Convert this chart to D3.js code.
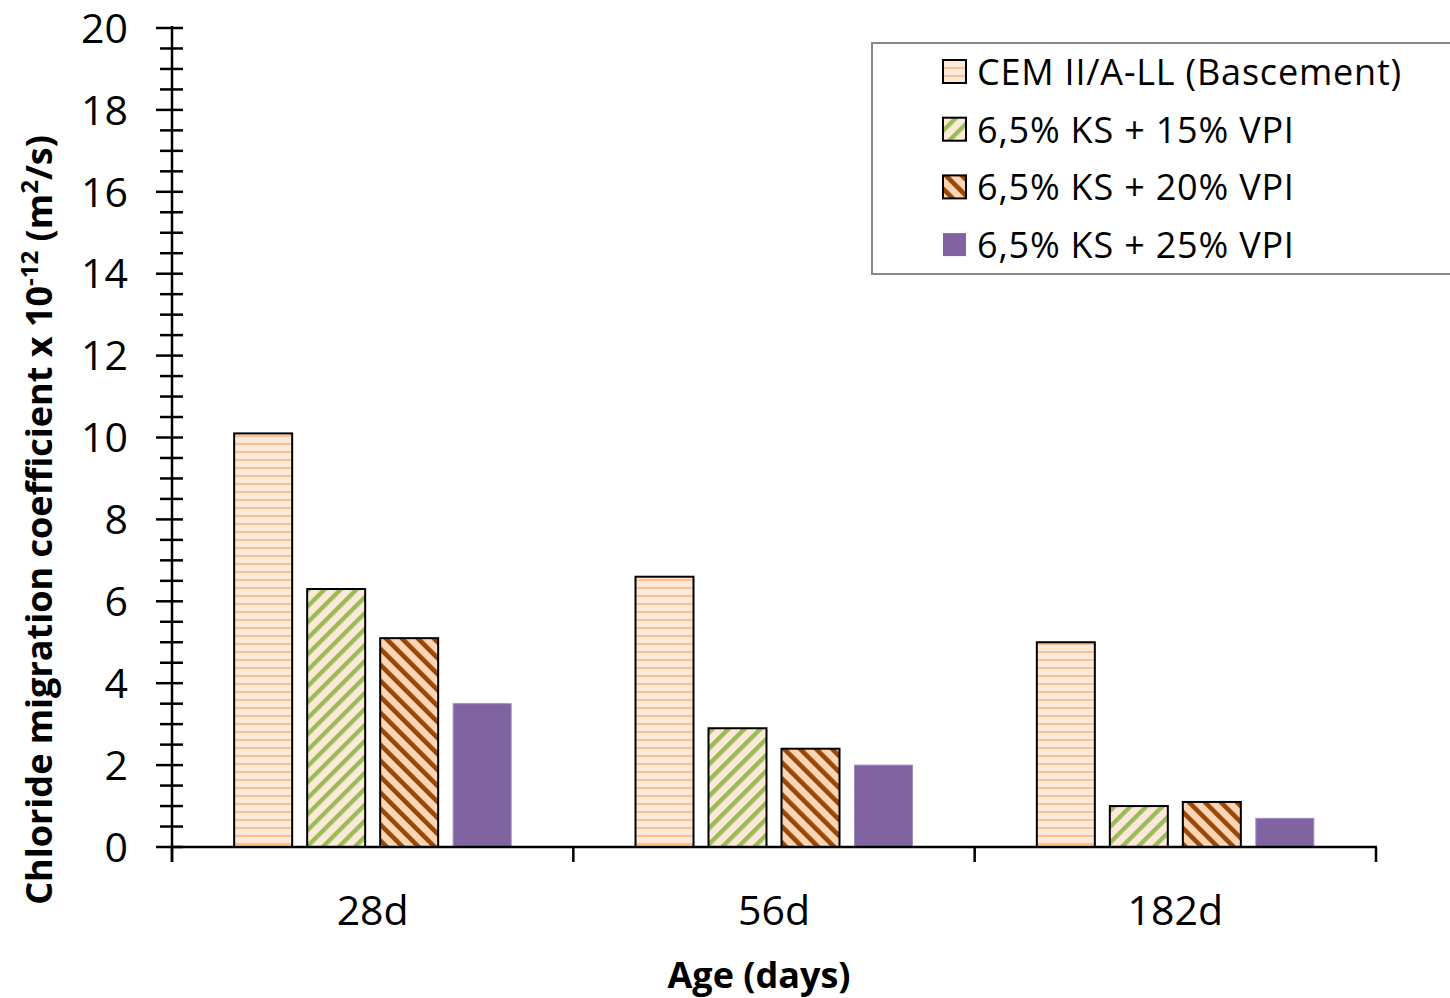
<!DOCTYPE html>
<html><head><meta charset="utf-8">
<script src="https://cdn.jsdelivr.net/npm/d3@7"></script>
<style>html,body{margin:0;padding:0;background:#fff;}svg{display:block;}</style>
</head><body>
<svg id="chart" width="1450" height="998"></svg>
<script>
const categories = ["28d", "56d", "182d"];
const seriesNames = ["CEM II/A-LL (Bascement)", "6,5% KS + 15% VPI", "6,5% KS + 20% VPI", "6,5% KS + 25% VPI"];
const cemValues = [10.1, 6.6, 5.0];
const vpi15Values = [6.3, 2.9, 1.0];
const vpi20Values = [5.1, 2.4, 1.1];
const vpi25Values = [3.5, 2.0, 0.7];
const yTicks = [0, 2, 4, 6, 8, 10, 12, 14, 16, 18, 20];
const seriesValues = [cemValues, vpi15Values, vpi20Values, vpi25Values];

(function () {
const svg = d3.select("#chart");
const FONT = "'Open Sans', sans-serif";
const pLeft = 172, pRight = 1376, pTop = 28, pBottom = 847;

const defs = svg.append("defs");
const p0 = defs.append("pattern").attr("id", "pat0").attr("patternUnits", "userSpaceOnUse")
  .attr("width", 8).attr("height", 8);
p0.append("rect").attr("width", 8).attr("height", 8).attr("fill", "#FDE9D9");
p0.append("rect").attr("y", 3).attr("width", 8).attr("height", 2).attr("fill", "#FAC090");
const p1 = defs.append("pattern").attr("id", "pat1").attr("patternUnits", "userSpaceOnUse")
  .attr("width", 11.3).attr("height", 11.3).attr("patternTransform", "rotate(45)");
p1.append("rect").attr("width", 11.3).attr("height", 11.3).attr("fill", "#FDE9D9");
p1.append("rect").attr("width", 4.4).attr("height", 11.3).attr("fill", "#9BBB59");
const p2 = defs.append("pattern").attr("id", "pat2").attr("patternUnits", "userSpaceOnUse")
  .attr("width", 11.3).attr("height", 11.3).attr("patternTransform", "rotate(-45)");
p2.append("rect").attr("width", 11.3).attr("height", 11.3).attr("fill", "#FCD5B5");
p2.append("rect").attr("width", 4.6).attr("height", 11.3).attr("fill", "#984807");

const fills = ["url(#pat0)", "url(#pat1)", "url(#pat2)", "#8064A2"];
const strokes = ["#000", "#000", "#000", "#A08AC0"];
const strokeW = [2, 2, 2, 1];

const y = d3.scaleLinear().domain([0, 20]).range([pBottom, pTop]);
const x0 = d3.scaleBand().domain(categories).range([pLeft, pRight]).paddingInner(0).paddingOuter(0);
const x1 = d3.scaleBand().domain(d3.range(4)).range([0, 277]).paddingInner(15/73).paddingOuter(0);

categories.forEach((c, ci) => {
  const gx = x0(c) + x0.bandwidth() / 2 - 138.5;
  seriesValues.forEach((vals, si) => {
    svg.append("rect")
      .attr("x", gx + x1(si))
      .attr("y", y(vals[ci]))
      .attr("width", x1.bandwidth())
      .attr("height", pBottom - y(vals[ci]))
      .attr("fill", fills[si])
      .attr("stroke", strokes[si])
      .attr("stroke-width", strokeW[si]);
  });
});

const minorTicks = d3.range(0, 20.01, 0.5).filter(v => Math.abs(v % 2) > 1e-6);
const ya = svg.append("g");
minorTicks.forEach(v => {
  ya.append("line").attr("x1", pLeft - 12).attr("x2", pLeft + 11).attr("y1", y(v)).attr("y2", y(v))
    .attr("stroke", "#000").attr("stroke-width", 2.5);
});
yTicks.forEach(v => {
  ya.append("line").attr("x1", pLeft - 16).attr("x2", pLeft + 11).attr("y1", y(v)).attr("y2", y(v))
    .attr("stroke", "#000").attr("stroke-width", 2.5);
  ya.append("text").attr("x", 128).attr("y", y(v)).attr("dy", "0.36em")
    .attr("text-anchor", "end").attr("font-family", FONT).attr("font-size", 41).attr("fill", "#000")
    .text(v);
});
ya.append("line").attr("x1", pLeft).attr("x2", pLeft).attr("y1", pTop - 2).attr("y2", pBottom + 15)
  .attr("stroke", "#000").attr("stroke-width", 2.5);

svg.append("line").attr("x1", pLeft).attr("x2", pRight + 1).attr("y1", pBottom).attr("y2", pBottom)
  .attr("stroke", "#000").attr("stroke-width", 2.5);
const bounds = categories.map(c => x0(c)).concat([x0(categories[categories.length - 1]) + x0.bandwidth()]);
bounds.forEach(b => {
  svg.append("line").attr("x1", b).attr("x2", b).attr("y1", pBottom).attr("y2", pBottom + 15)
    .attr("stroke", "#000").attr("stroke-width", 2.5);
});
categories.forEach(c => {
  svg.append("text").attr("x", x0(c) + x0.bandwidth() / 2).attr("y", 925)
    .attr("text-anchor", "middle").attr("font-family", FONT).attr("font-size", 41).attr("fill", "#000")
    .text(c);
});

svg.append("text").attr("x", 759).attr("y", 988).attr("text-anchor", "middle")
  .attr("font-family", FONT).attr("font-weight", "bold").attr("font-size", 36).text("Age (days)");
const yt = svg.append("text").attr("transform", "translate(52,520) rotate(-90)").attr("text-anchor", "middle")
  .attr("font-family", FONT).attr("font-weight", "bold").attr("font-size", 36);
yt.append("tspan").text("Chloride migration coefficient x 10");
yt.append("tspan").attr("font-size", 24).attr("dy", -14).text("-12");
yt.append("tspan").attr("dy", 14).text(" (m");
yt.append("tspan").attr("font-size", 24).attr("dy", -14).text("2");
yt.append("tspan").attr("dy", 14).text("/s)");

svg.append("rect").attr("x", 872).attr("y", 43).attr("width", 600).attr("height", 231)
  .attr("fill", "#fff").attr("stroke", "#888").attr("stroke-width", 2);
seriesNames.forEach((n, i) => {
  const cy = 72 + i * 57.7;
  svg.append("rect").attr("x", 943).attr("y", cy - 12).attr("width", 23).attr("height", 23)
    .attr("fill", fills[i]).attr("stroke", i < 3 ? "#000" : "none").attr("stroke-width", 2);
  svg.append("text").attr("x", 977).attr("y", cy).attr("dy", "0.36em")
    .attr("font-family", FONT).attr("font-size", 36).attr("letter-spacing", 0.8)
    .attr("fill", "#000").text(n);
});
})();
</script>
</body></html>
